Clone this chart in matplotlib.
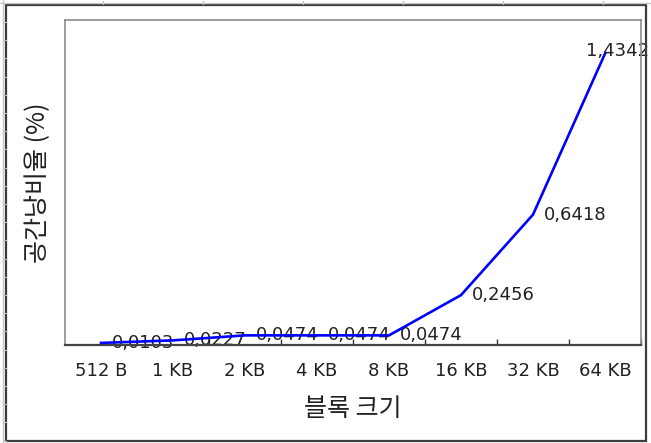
import matplotlib
matplotlib.use("Agg")
import matplotlib.pyplot as plt
from matplotlib.patches import Rectangle
from matplotlib.lines import Line2D
import numpy as np

plt.rcParams['font.family'] = ['Noto Sans CJK KR', 'DejaVu Sans']

block_sizes = ["512 B", "1 KB", "2 KB", "4 KB", "8 KB", "16 KB", "32 KB", "64 KB"]
waste_pct = [0.0103, 0.0227, 0.0474, 0.0474, 0.0474, 0.2456, 0.6418, 1.4342]
value_labels = ["0,0103", "0,0227", "0,0474", "0,0474", "0,0474", "0,2456", "0,6418", "1,4342"]

W, H = 651, 443
fig = plt.figure(figsize=(W / 100, H / 100), dpi=100)
fig.patch.set_facecolor("white")

# page frame and ruler marks around the chart object
fig.add_artist(Rectangle((6 / W, 2 / H), 640 / W, 436 / H, transform=fig.transFigure,
                         fill=False, edgecolor="#3c3c3c", linewidth=1.6))
fig.add_artist(Line2D([2.5 / W, 2.5 / W], [0, 1], transform=fig.transFigure,
                      color="#c8c8c8", linewidth=1.0))
fig.add_artist(Line2D([0, 1], [1 - 2.5 / H, 1 - 2.5 / H], transform=fig.transFigure,
                      color="#c8c8c8", linewidth=1.0))
for yy in np.arange(22, H, 18.2):
    fig.add_artist(Line2D([2.5 / W, 6 / W], [1 - yy / H, 1 - yy / H], transform=fig.transFigure,
                          color="#c0c0c0", linewidth=0.8))
for xx in np.arange(103, W, 100):
    fig.add_artist(Line2D([xx / W, xx / W], [1 - 1 / H, 1 - 4 / H], transform=fig.transFigure,
                          color="#c0c0c0", linewidth=0.8))

ax = fig.add_axes([65 / W, (H - 345) / H, (641 - 65) / W, (345 - 20) / H])
x = np.arange(len(block_sizes))

ax.plot(x, waste_pct, color="#0000ff", linewidth=1.9, zorder=3, solid_joinstyle="round")

for i, (v, lab) in enumerate(zip(waste_pct, value_labels)):
    if i == len(waste_pct) - 1:
        off = (-19, 3)
    else:
        off = (11, 0)
    ax.annotate(lab, (i, v), xytext=off, textcoords="offset pixels",
                ha="left", va="center", fontsize=13, color="#222222",
                family=["DejaVu Sans"], zorder=2, annotation_clip=False)

ax.set_xlim(-0.5, len(block_sizes) - 0.5)
ax.set_ylim(0, 1.6)

ax.set_xticks(x)
ax.set_xticklabels(block_sizes, fontsize=13, color="#222222", family=["DejaVu Sans"])
ax.tick_params(axis="x", which="major", length=0, pad=12)
ax.set_xticks(np.arange(0.5, len(block_sizes), 1.0), minor=True)
ax.tick_params(axis="x", which="minor", direction="in", length=4, width=1, color="#333333")
ax.set_yticks([])

for side in ("top", "right", "left"):
    ax.spines[side].set_color("#8c8c8c")
    ax.spines[side].set_linewidth(1.2)
ax.spines["bottom"].set_color("#444444")
ax.spines["bottom"].set_linewidth(1.6)

ax.set_xlabel("블록 크기", fontsize=18, color="#222222", labelpad=12)
ax.set_ylabel("공간낭비율 (%)", fontsize=18, color="#222222", labelpad=10)

fig.savefig("out.png", dpi=100)
